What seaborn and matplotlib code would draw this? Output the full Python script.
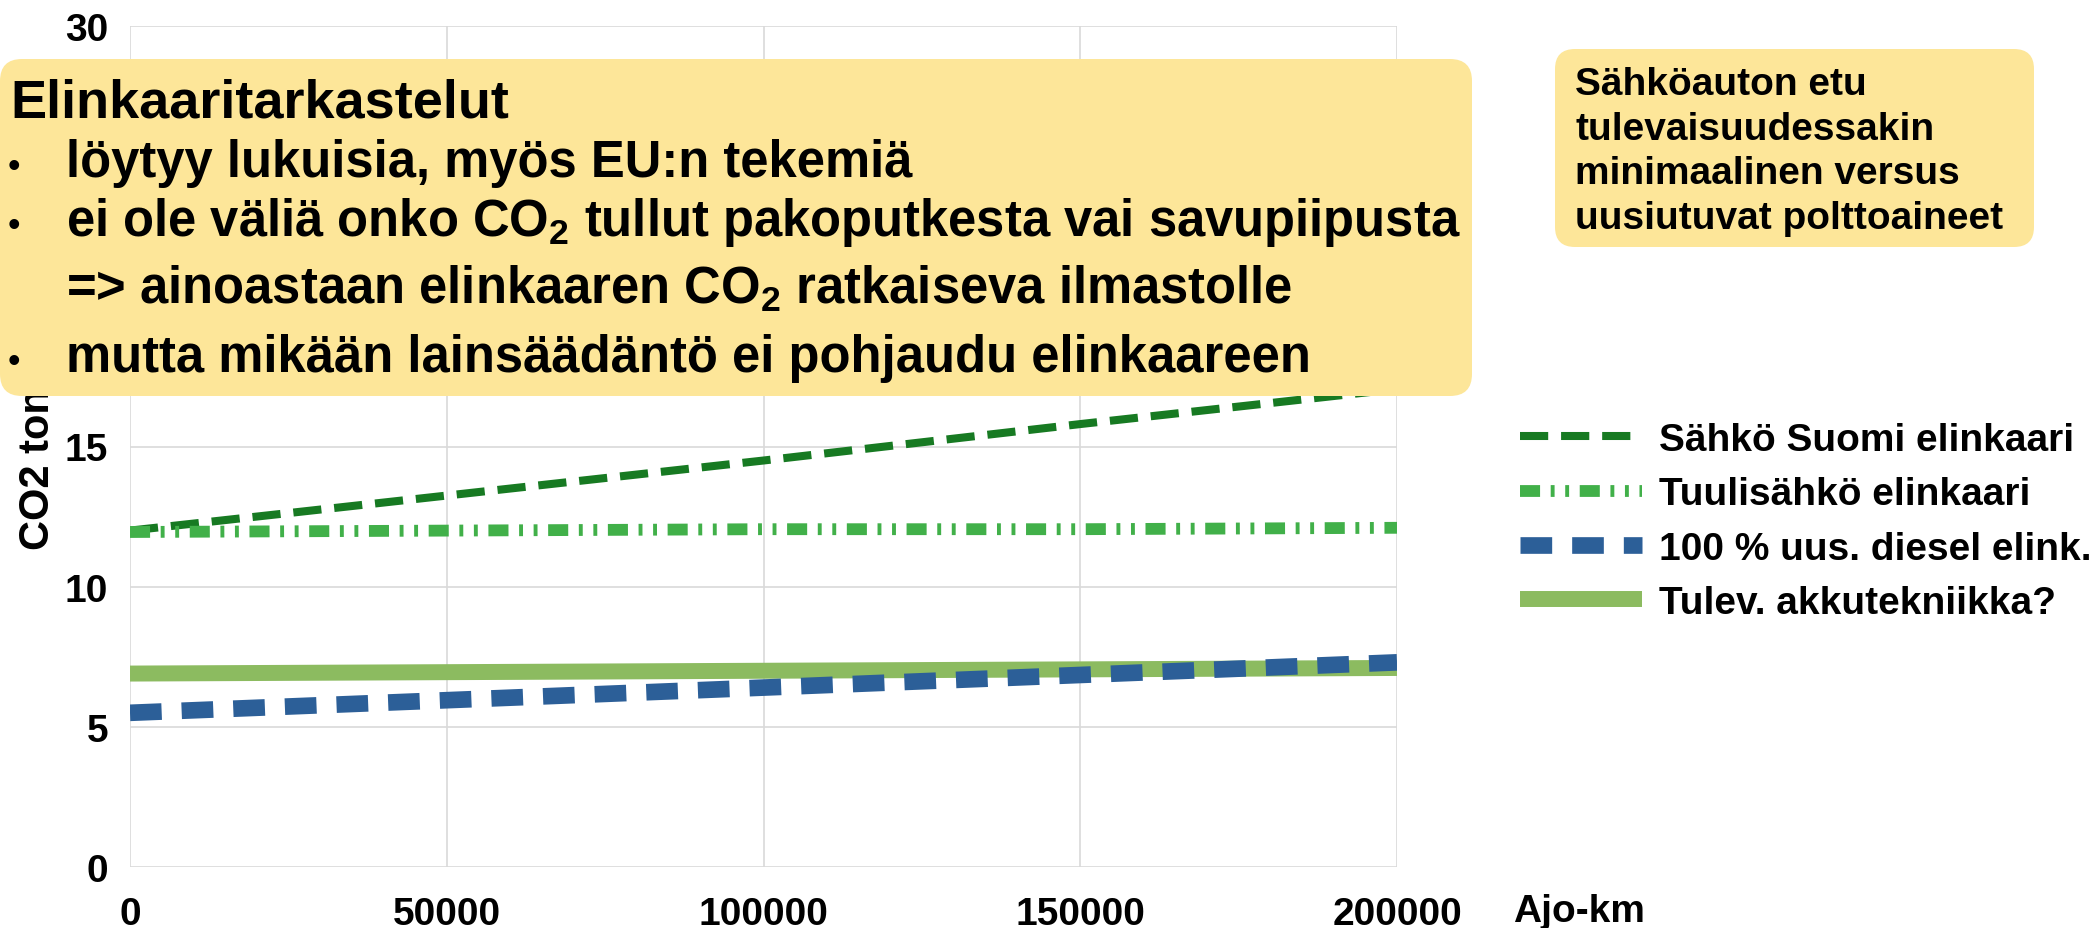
# Elinkaari CO2 vs ajo-km chart

import matplotlib
matplotlib.use("Agg")
import matplotlib.pyplot as plt
from matplotlib.patches import FancyBboxPatch
import seaborn as sns

# Data
ajo_km = [0, 50000, 100000, 150000, 200000]
sahko_suomi = [12.0, 13.25, 14.5, 15.8, 17.05]
tuulisahko = [11.95, 12.0, 12.05, 12.05, 12.1]
uus_diesel = [5.5, 5.95, 6.4, 6.85, 7.3]
akkutekniikka = [6.9, 6.95, 7.0, 7.05, 7.1]

series_labels = ["Sähkö Suomi elinkaari", "Tuulisähkö elinkaari",
                 "100 % uus. diesel elink.", "Tulev. akkutekniikka?"]
x_ticks = [0, 50000, 100000, 150000, 200000]
x_ticklabels = ["0", "50000", "100000", "150000", "200000"]
y_ticks = [0, 5, 10, 15, 20, 25, 30]
y_ticklabels = ["0", "5", "10", "15", "20", "25", "30"]

box_title = "Elinkaaritarkastelut"
box_lines = ["löytyy lukuisia, myös EU:n tekemiä",
             r"ei ole väliä onko CO$_\mathbf{2}$ tullut pakoputkesta vai savupiipusta",
             r"=> ainoastaan elinkaaren CO$_\mathbf{2}$ ratkaiseva ilmastolle",
             "mutta mikään lainsäädäntö ei pohjaudu elinkaareen"]
box_bullets = [True, True, False, True]
side_note = ["Sähköauton etu", "tulevaisuudessakin",
             "minimaalinen versus", "uusiutuvat polttoaineet"]

# Style
sns.set_theme(style="whitegrid")
plt.rcParams["font.family"] = ["Liberation Sans", "DejaVu Sans"]
plt.rcParams["font.weight"] = "bold"
plt.rcParams["text.color"] = "black"
plt.rcParams["mathtext.fontset"] = "custom"
plt.rcParams["mathtext.rm"] = "Liberation Sans"
plt.rcParams["mathtext.bf"] = "Liberation Sans:bold"

W, H = 2100, 929
fig = plt.figure(figsize=(W / 100, H / 100), dpi=100)
fig.patch.set_facecolor("white")


def fx(px):
    return px / W


def fy(py):
    return 1 - py / H


ax = fig.add_axes([fx(130), fy(868), fx(1397) - fx(130), fy(27) - fy(868)])
ax.set_facecolor("white")

# Lines
sns.lineplot(x=ajo_km, y=akkutekniikka, ax=ax, color="#8cbb60", lw=11.5,
             solid_capstyle="butt", label=series_labels[3], zorder=2)
sns.lineplot(x=ajo_km, y=sahko_suomi, ax=ax, color="#177a22", lw=5.8,
             linestyle=(0, (3.5, 1.6)), label=series_labels[0], zorder=3)
sns.lineplot(x=ajo_km, y=tuulisahko, ax=ax, color="#41b049", lw=8.5,
             linestyle=(0, (1.7, 0.9, 0.33, 0.9, 0.33, 0.9)),
             label=series_labels[1], zorder=3)
sns.lineplot(x=ajo_km, y=uus_diesel, ax=ax, color="#2c5f98", lw=12,
             linestyle=(0, (1.9, 1.2)), label=series_labels[2], zorder=4)

ax.set_xlim(0, 200000)
ax.set_ylim(0, 30)
ax.set_xticks(x_ticks)
ax.set_xticklabels(x_ticklabels)
ax.set_yticks(y_ticks)
ax.set_yticklabels(y_ticklabels)
ax.set_xlabel("")
ax.set_ylabel("")
for s in ax.spines.values():
    s.set_visible(False)
ax.grid(True, color="#d9d9d9", lw=1.2)
ax.tick_params(axis="both", length=8.6, width=1.2, color="#d9d9d9",
               labelsize=28, labelcolor="black")
ax.tick_params(axis="x", pad=12)
ax.tick_params(axis="y", pad=7)
for t in ax.get_xticklabels() + ax.get_yticklabels():
    t.set_fontweight("bold")

# Legend
handles, labels = ax.get_legend_handles_labels()
order = [labels.index(l) for l in series_labels]
leg = ax.legend([handles[i] for i in order], [labels[i] for i in order],
                loc="upper left", bbox_to_anchor=(fx(1520), fy(423)),
                bbox_transform=fig.transFigure, frameon=False, fontsize=28,
                handlelength=3.14, handletextpad=0.44, labelspacing=0.47,
                borderpad=0, borderaxespad=0)
for t in leg.get_texts():
    t.set_color("black")

# Axis titles
fig.text(fx(38), fy(550), "CO2 tonnia", rotation=90, ha="center",
         va="bottom", fontsize=30, fontweight="bold")
fig.text(fx(1513), fy(912), "Ajo-km", ha="left", va="center",
         fontsize=28, fontweight="bold")

# Big note box
big = FancyBboxPatch((0.0, (H - 397) / 100), 14.72, (397 - 60) / 100,
                     boxstyle="round,pad=0,rounding_size=0.22",
                     transform=fig.dpi_scale_trans, fc="#fde699", ec="none",
                     zorder=5)
fig.add_artist(big)
fig.text(fx(10), fy(117), box_title, ha="left", va="baseline",
         fontsize=39, fontweight="bold", zorder=6)
baselines = [177, 236, 304, 372]
for line, bullet, yb in zip(box_lines, box_bullets, baselines):
    if bullet:
        fig.text(fx(8), fy(yb), "•", ha="left", va="baseline",
                 fontsize=26, fontweight="normal", zorder=6)
    fig.text(fx(66), fy(yb), line, ha="left", va="baseline",
             fontsize=36.5, fontweight="bold", zorder=6)

# Side note box
small = FancyBboxPatch((1555 / 100, (H - 248) / 100), (2034 - 1555) / 100,
                       (248 - 50) / 100,
                       boxstyle="round,pad=0,rounding_size=0.2",
                       transform=fig.dpi_scale_trans, fc="#fde699", ec="none",
                       zorder=5)
fig.add_artist(small)
for i, line in enumerate(side_note):
    fig.text(fx(1575), fy(95 + 44.7 * i), line, ha="left", va="baseline",
             fontsize=28, fontweight="bold", zorder=6)

fig.savefig("out.png", dpi=100, facecolor="white")
